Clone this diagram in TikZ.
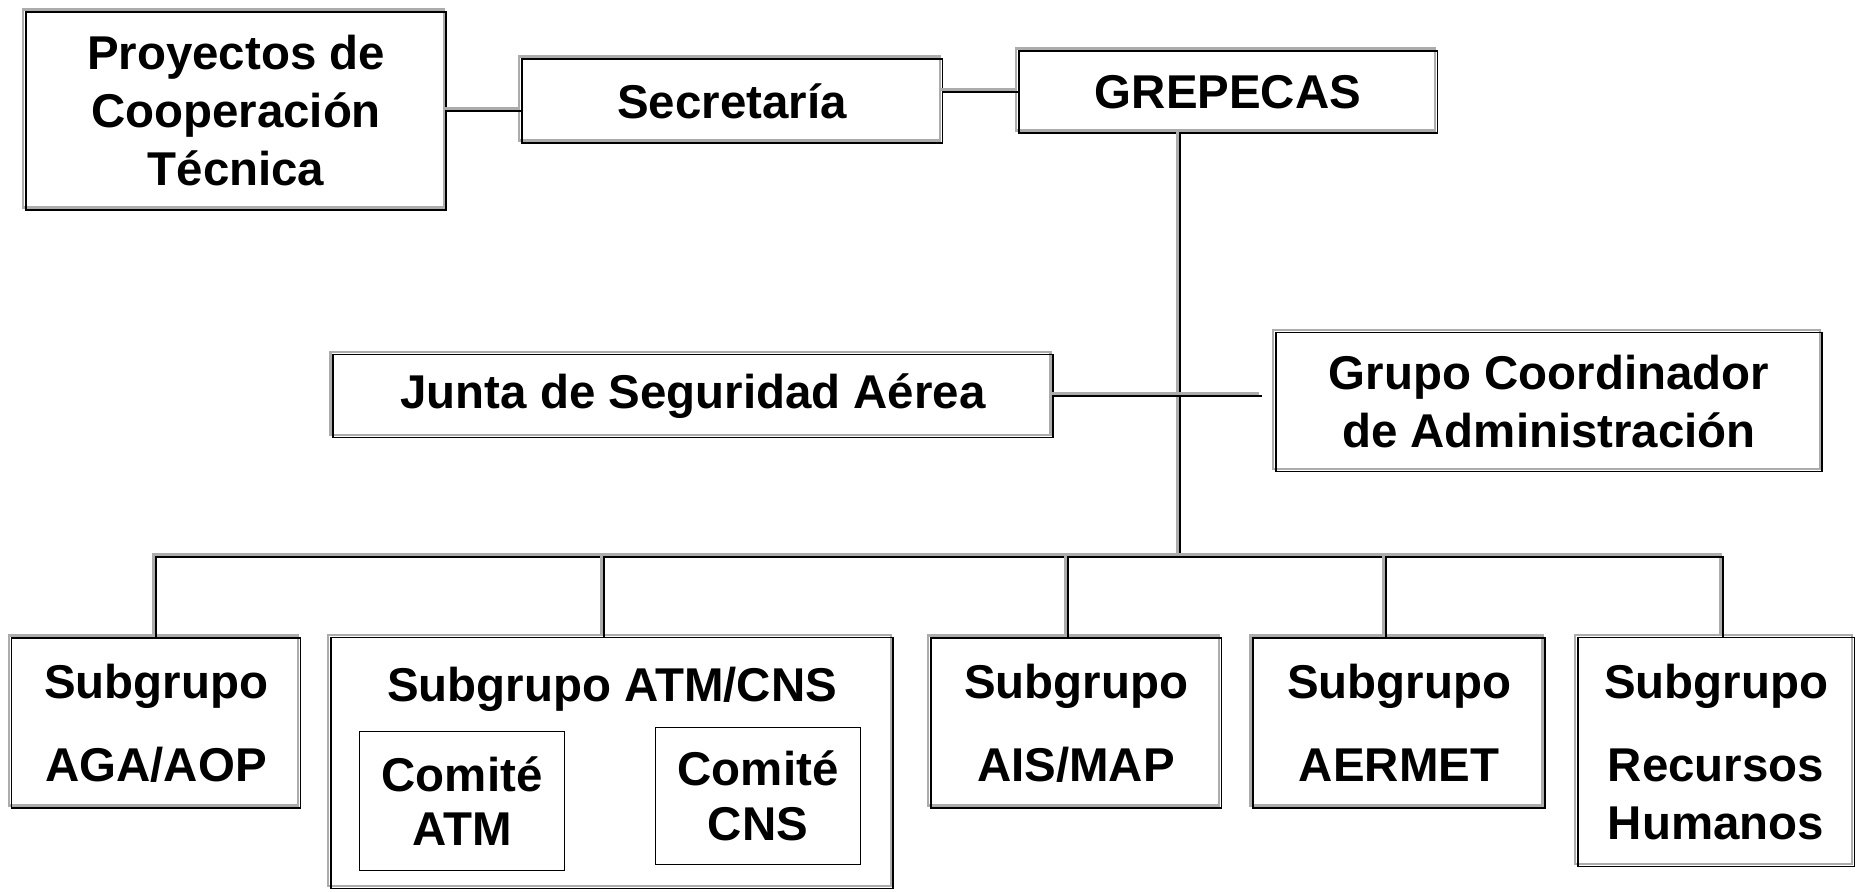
\documentclass[tikz,border=0pt]{standalone}
\usepackage{fontspec}
\setmainfont{Liberation Sans}
\usetikzlibrary{positioning, calc}
\tikzset{%
	box/.style={draw, line width=1.1pt, rectangle, inner sep=0mm, align=center,%
		font=\bfseries\fontsize{27}{33}\selectfont,%
		preaction={draw=gray!65, line width=1.3pt, transform canvas={shift={(-1.4pt,1.4pt)}}}},
	comite/.style={draw, line width=0.9pt, rectangle, inner sep=0mm, align=center,%
		font=\bfseries\fontsize{27}{31}\selectfont},
	conn/.style={line width=1.1pt,%
		preaction={draw=gray!65, line width=1.3pt, transform canvas={shift={(-1.4pt,1.4pt)}}}},
	textnode/.style={inner sep=0mm, align=center, font=\bfseries\fontsize{27}{33}\selectfont}
}
\begin{document}
\begin{tikzpicture}[x=0.02cm, y=-0.02cm]
	\useasboundingbox (0,0) rectangle (1864,892);

	%top row
	\node[box, minimum width=8.42cm, minimum height=3.96cm] (proy) at (236,111)
		{Proyectos de\\Cooperación\\Técnica};
	\node[box, minimum width=8.42cm, minimum height=1.68cm] (secr) at (732,101) {Secretaría};
	\node[box, minimum width=8.38cm, minimum height=1.64cm] (grep) at (1228,92) {GREPECAS};

	\draw[conn] (proy.east) -- (proy.east -| secr.west);
	\draw[conn] (grep.west -| secr.east) -- (grep.west);

	%middle row
	\node[box, minimum width=14.4cm, minimum height=1.66cm] (junta) at (693,396)
		{Junta de Seguridad Aérea};
	\node[box, minimum width=10.94cm, minimum height=2.78cm] (grupo) at (1549,402)
		{Grupo Coordinador\\de Administración};

	%subgroups
	\node[box, minimum width=5.78cm, minimum height=3.4cm] (aga) at (156,723)
		{Subgrupo\\[0.5cm]AGA/AOP};
	\node[box, minimum width=11.26cm, minimum height=5.02cm] (atmcns) at (612,763) {};
	\node[textnode, below=0.6cm of atmcns.north] (atmcnst) {Subgrupo ATM/CNS};
	\node[comite, minimum width=4.1cm, minimum height=2.78cm] (catm) at (462,801) {Comité\\ATM};
	\node[comite, minimum width=4.1cm, minimum height=2.74cm] (ccns) at (758,796) {Comité\\CNS};
	\node[box, minimum width=5.82cm, minimum height=3.4cm] (ais) at (1076,723)
		{Subgrupo\\[0.5cm]AIS/MAP};
	\node[box, minimum width=5.84cm, minimum height=3.4cm] (aermet) at (1399,723)
		{Subgrupo\\[0.5cm]AERMET};
	\node[box, minimum width=5.54cm, minimum height=4.58cm] (rrhh) at (1716,752)
		{Subgrupo\\[0.5cm]Recursos\\Humanos};

	%trunk and bus
	\coordinate (bus) at (1180,557);
	\draw[conn] (grep.south -| bus) -- (bus);
	\draw[conn, shorten >=0.26cm] (junta.east) -- (junta.east -| grupo.west);
	\draw[conn] (aga.north) |- ([xshift=0.14cm]rrhh.north |- bus) -- ([xshift=0.14cm]rrhh.north);
	\foreach \n/\dx in {atmcns/-0.16cm, ais/-0.16cm, aermet/-0.26cm}
		\draw[conn] ([xshift=\dx]bus -| \n.north) -- ([xshift=\dx]\n.north);

\end{tikzpicture}
\end{document}
